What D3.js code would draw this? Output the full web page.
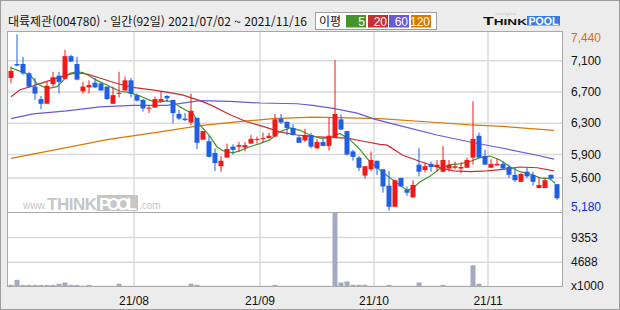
<!DOCTYPE html>
<html lang="ko">
<head>
<meta charset="utf-8">
<title>대륙제관 일간</title>
<script src="https://d3js.org/d3.v7.min.js"></script>
<style>
  body { margin: 0; background: #ececec; }
  svg { display: block; }
  text { font-family: "Liberation Sans", Arial, sans-serif; }
  .kr { font-family: "Noto Sans CJK KR", sans-serif; }
</style>
</head>
<body>
<svg id="chart" width="620" height="310"></svg>
<script>
// daily candles, 2021/07/02 ~ 2021/11/16 (92 trading days)
var opens  = [6880,7060,7060,6940,6770,6610,6550,6800,6910,6870,7160,7060,6710,6760,6820,6810,6770,6550,6680,6720,
              6850,6660,6600,6490,6500,6580,6650,6600,6420,6360,6310,6370,6090,6070,5920,5750,5860,6000,6000,5990,
              6040,6090,6100,6110,6130,6360,6320,6240,6120,6080,6150,5980,6060,6010,6120,6350,6200,5940,5860,5630,
              5710,5820,5710,5500,5230,5600,5450,5350,5770,5700,5780,5740,5680,5720,5730,5720,5730,5860,6140,5880,
              5730,5760,5780,5740,5640,5550,5680,5640,5470,5470,5640,5520];
var highs  = [7030,7440,7150,6960,6880,6650,6830,6960,6960,7240,7180,7150,6830,6850,6880,6830,6770,6770,6960,6900,
              6880,6680,6610,6530,6640,6710,6660,6600,6470,6430,6680,6370,6200,6140,5980,5880,6040,6030,6060,6060,
              6150,6130,6180,6180,6420,6420,6320,6290,6150,6230,6180,6100,6120,6370,7110,6410,6200,5960,5880,5750,
              5940,5820,5710,5690,5570,5600,5490,5570,5980,5800,5810,5830,6010,5830,5810,5800,5860,6580,6180,5960,
              5840,5850,5810,5770,5740,5660,5740,5680,5610,5600,5640,5520];
var lows   = [6810,7030,6920,6750,6600,6480,6550,6770,6680,6870,7090,6850,6680,6680,6750,6720,6600,6550,6630,6720,
              6630,6580,6450,6430,6500,6570,6570,6300,6340,6330,6280,5970,6090,5860,5690,5680,5860,5900,5930,5940,
              6040,6040,6050,6110,6130,6290,6150,6140,6050,6060,5980,5970,6010,5950,6120,6210,5890,5820,5690,5590,
              5690,5640,5410,5180,5230,5490,5370,5350,5620,5670,5680,5680,5670,5680,5710,5660,5730,5770,5860,5770,
              5730,5760,5710,5600,5550,5550,5600,5500,5470,5470,5590,5320];
var closes = [6970,7040,6940,6770,6680,6550,6780,6890,6830,7160,7090,6860,6770,6790,6760,6720,6610,6660,6690,6850,
              6680,6590,6490,6500,6610,6610,6620,6430,6360,6340,6460,6050,6200,5870,5790,5820,5970,5960,6020,6020,
              6100,6100,6110,6140,6350,6310,6240,6150,6050,6150,6000,6060,6010,6140,6420,6220,5900,5870,5730,5750,
              5830,5720,5490,5230,5570,5490,5410,5510,5680,5750,5740,5770,5830,5770,5750,5740,5830,6100,5860,5770,
              5780,5780,5720,5640,5570,5650,5620,5550,5510,5570,5590,5340];
// volume, thousand shares
var volumes = [420,1350,400,400,400,400,400,400,600,850,420,400,250,400,220,220,220,220,620,220,
               220,220,220,220,220,220,220,220,220,220,620,420,220,220,220,220,220,220,220,220,
               220,220,220,220,420,220,220,220,220,220,220,220,220,220,14000,850,1050,420,420,420,
               220,220,220,420,220,220,220,220,850,220,220,220,420,220,220,220,220,4100,620,200,
               200,200,200,200,200,200,200,200,200,200,200,200];

// moving averages: [day index, price]
var ma5 = [[0,7010],[3.2,6920],[4.3,6810],[5.3,6770],[6.5,6750],[7.7,6770],[8.7,6850],[9.8,6940],[11,6960],[12,6950],
           [13.2,6900],[14.3,6850],[16,6790],[17,6750],[18.2,6710],[19.3,6700],[20.3,6680],[21.5,6650],[22.7,6610],
           [23.7,6580],[24.8,6570],[26,6590],[27,6570],[28.2,6510],[29.3,6460],[30.3,6430],[31.5,6280],[33.2,6130],
           [34.3,6000],[35.3,5950],[37,5920],[38.2,5950],[39.8,6000],[41.5,6040],[43.2,6090],[44.8,6190],[46.5,6240],
           [48.2,6210],[49.8,6150],[51.5,6110],[53.2,6110],[54.8,6170],[56.5,6090],[58.2,5960],[59.8,5810],[61.5,5700],
           [63.2,5600],[64.8,5510],[66,5440],[67,5470],[68.2,5550],[69.8,5620],[71.5,5720],[73.2,5770],[74.8,5780],
           [76.5,5810],[78.2,5860],[79.8,5880],[81.5,5830],[83.2,5740],[84.8,5680],[86.5,5650],[88.2,5600],[89.8,5590],
           [90.7,5530]];
var ma20 = [[0,6640],[1.5,6730],[3.7,6780],[6.5,6850],[9.3,6920],[11,6950],[12.7,6930],[14.8,6880],[17.7,6810],
            [20.3,6760],[23.2,6730],[26,6700],[28.7,6660],[31.5,6590],[33.7,6520],[36.5,6410],[39.3,6320],[42,6260],
            [44.8,6190],[47.7,6150],[50.3,6130],[53.2,6120],[56,6110],[58.7,6070],[61.5,6030],[62.7,6020],[65.3,5890],
            [68.2,5810],[71,5740],[73.7,5690],[76.5,5680],[79.3,5690],[82,5710],[84.8,5740],[87.7,5730],[90.5,5690]];
var ma60 = [[0,6360],[3.7,6420],[9.3,6460],[14.8,6510],[20.3,6530],[26,6530],[31.5,6590],[36.5,6580],[41.5,6560],
            [47.7,6550],[50.3,6530],[53.7,6490],[57.7,6430],[60.7,6350],[65.3,6260],[71,6150],[76.5,6060],[82,5980],
            [87.7,5890],[90.5,5840]];
var ma120 = [[0,5850],[12,6030],[16,6090],[24,6180],[31.5,6270],[39.3,6330],[43.7,6360],[50.3,6380],[56,6370],
             [61.5,6360],[71,6310],[76.5,6280],[82,6260],[90.5,6210]];

var priceTicks = [7100, 6700, 6300, 5900, 5600];
var priceMax = 7440, priceMin = 5180;
var volTicks = [4688, 9353];
var monthStart = [21, 42, 61, 80];
var monthLabels = ["21/08", "21/09", "21/10", "21/11"];
var maLegend = ["5", "20", "60", "120"];
var maColors = ["#45962a", "#c43030", "#6a5ad8", "#d97800"];

var svg = d3.select("#chart");
var L = 7, R = 563, T = 31, MID = 212, B = 287;
var up = "#f01818", down = "#1f5fe6";

var x = d3.scaleLinear().domain([0, 91]).range([11, 557]);
var y = d3.scaleLinear().domain([priceMin, priceMax]).range([210.7, 34.3]);
var yv = d3.scaleLinear().domain([0, 9353]).range([B, 237.5]);

// background + frame
svg.append("rect").attr("x", 0.5).attr("y", 0.5).attr("width", 619).attr("height", 309)
   .attr("fill", "#ececec").attr("stroke", "#9c9c9c");
svg.append("rect").attr("x", L).attr("y", T).attr("width", R - L).attr("height", B - T).attr("fill", "#fff");

svg.append("defs").append("clipPath").attr("id", "pclip")
   .append("rect").attr("x", L).attr("y", T).attr("width", R - L).attr("height", MID - T);

// grid
var grid = svg.append("g").attr("stroke", "#dadada").attr("stroke-width", 1.5);
grid.selectAll(".hp").data(priceTicks).enter().append("line")
    .attr("x1", L).attr("x2", R).attr("y1", function(d){ return y(d); }).attr("y2", function(d){ return y(d); });
grid.selectAll(".hv").data(volTicks).enter().append("line")
    .attr("x1", L).attr("x2", R).attr("y1", function(d){ return yv(d); }).attr("y2", function(d){ return yv(d); });
grid.selectAll(".vm").data(monthStart).enter().append("line")
    .attr("x1", function(d){ return x(d - 0.5); }).attr("x2", function(d){ return x(d - 0.5); })
    .attr("y1", T).attr("y2", B);

// watermark
var wm = svg.append("g").attr("fill", "#c6c6c6");
wm.append("text").attr("x", 23).attr("y", 209).attr("font-size", 10).text("www.");
wm.append("text").attr("x", 47).attr("y", 210).attr("font-size", 17).attr("font-weight", "bold")
  .attr("textLength", 50).text("THINK");
wm.append("rect").attr("x", 97).attr("y", 195).attr("width", 41).attr("height", 16);
wm.append("text").attr("x", 99).attr("y", 210).attr("font-size", 17).attr("font-weight", "bold")
  .attr("fill", "#fff").attr("textLength", 38).text("POOL");
wm.append("text").attr("x", 139).attr("y", 209).attr("font-size", 10).text(".com");

// moving averages
var line = d3.line().x(function(d){ return x(d[0]); }).y(function(d){ return y(d[1]); });
var maG = svg.append("g").attr("clip-path", "url(#pclip)").attr("fill", "none").attr("stroke-width", 1.2);
[ma120, ma60, ma20, ma5].forEach(function(s, k) {
  maG.append("path").datum(s).attr("d", line).attr("stroke", maColors[3 - k]);
});

// candles
var days = d3.range(opens.length);
var cg = svg.append("g");
cg.selectAll(".wick").data(days).enter().append("line")
  .attr("x1", function(i){ return x(i); }).attr("x2", function(i){ return x(i); })
  .attr("y1", function(i){ return y(highs[i]); }).attr("y2", function(i){ return y(lows[i]); })
  .attr("stroke", function(i){ return closes[i] >= opens[i] ? up : down; }).attr("stroke-width", 1);
cg.selectAll(".body").data(days).enter().append("rect")
  .attr("x", function(i){ return x(i) - 2.5; }).attr("width", 5)
  .attr("y", function(i){ return y(Math.max(opens[i], closes[i])); })
  .attr("height", function(i){ return Math.max(1, Math.abs(y(opens[i]) - y(closes[i]))); })
  .attr("fill", function(i){ return closes[i] >= opens[i] ? up : down; });

// volume
svg.append("g").selectAll("rect").data(days).enter().append("rect")
  .attr("x", function(i){ return x(i) - 2.5; }).attr("width", 5)
  .attr("y", function(i){ return yv(volumes[i]); })
  .attr("height", function(i){ return B - yv(volumes[i]); })
  .attr("fill", "#a2aac2");

// panel borders
svg.append("rect").attr("x", L + 0.5).attr("y", T + 0.5).attr("width", R - L - 1).attr("height", B - T - 1)
   .attr("fill", "none").attr("stroke", "#a8a8a8");
svg.append("line").attr("x1", L).attr("x2", R).attr("y1", MID + 0.5).attr("y2", MID + 0.5).attr("stroke", "#a8a8a8");

// right axis labels
var ax = svg.append("g").attr("font-size", 12);
function lab(v, txt, col) {
  var yy = Math.min(207, Math.max(38, y(v)));
  ax.append("text").attr("x", 571).attr("y", yy).attr("dy", "0.35em").attr("fill", col).text(txt);
}
lab(priceMax, d3.format(",")(priceMax), "#e07000");
priceTicks.forEach(function(v){ lab(v, d3.format(",")(v), "#111"); });
lab(priceMin, d3.format(",")(priceMin), "#1030e0");
volTicks.forEach(function(v){
  ax.append("text").attr("x", 571).attr("y", yv(v)).attr("dy", "0.35em").attr("fill", "#111").text(v);
});
ax.append("text").attr("x", 571).attr("y", 286).attr("dy", "0.35em").attr("fill", "#111").text("x1000");

// month labels
svg.append("g").attr("font-size", 12).selectAll("text").data(monthStart).enter().append("text")
  .attr("x", function(d){ return x(d - 0.5); }).attr("y", 305).attr("text-anchor", "middle")
  .attr("fill", "#111").text(function(d, i){ return monthLabels[i]; });

// header
svg.append("text").attr("class", "kr").attr("x", 8).attr("y", 26).attr("font-size", 12).attr("fill", "#111")
   .text("대륙제관(004780) · 일간(92일) 2021/07/02 ~ 2021/11/16");

var lg = svg.append("g");
lg.append("rect").attr("x", 315.5).attr("y", 12.5).attr("width", 121).attr("height", 17)
  .attr("fill", "#fff").attr("stroke", "#9c9c9c");
lg.append("text").attr("class", "kr").attr("x", 319).attr("y", 26).attr("font-size", 12).attr("fill", "#111").text("이평");
var boxX = [346, 368, 389, 411];
maLegend.forEach(function(t, i) {
  lg.append("rect").attr("x", boxX[i]).attr("y", 15).attr("width", 20).attr("height", 12.5).attr("fill", maColors[i]);
  lg.append("text").attr("x", boxX[i] + 19).attr("y", 26).attr("text-anchor", "end")
    .attr("font-size", 12).attr("fill", "#fff").text(t);
});

// logo
var logo = svg.append("g").attr("font-weight", "bold");
logo.append("text").attr("x", 483).attr("y", 25).attr("fill", "#111")
    .attr("textLength", 44).attr("lengthAdjust", "spacingAndGlyphs")
    .html('<tspan font-size="11">T</tspan><tspan font-size="8.5">HINK</tspan>');
logo.append("rect").attr("x", 527).attr("y", 16).attr("width", 33).attr("height", 9.5).attr("fill", "#3b7ae0");
logo.append("text").attr("x", 528.5).attr("y", 24.5).attr("font-size", 10).attr("fill", "#fff")
    .attr("textLength", 30).attr("lengthAdjust", "spacingAndGlyphs").text("POOL");
logo.append("text").attr("x", 495).attr("y", 15).attr("font-size", 4).attr("font-weight", "normal")
    .attr("fill", "#c8c8c8").text("smart group");
</script>
</body>
</html>
